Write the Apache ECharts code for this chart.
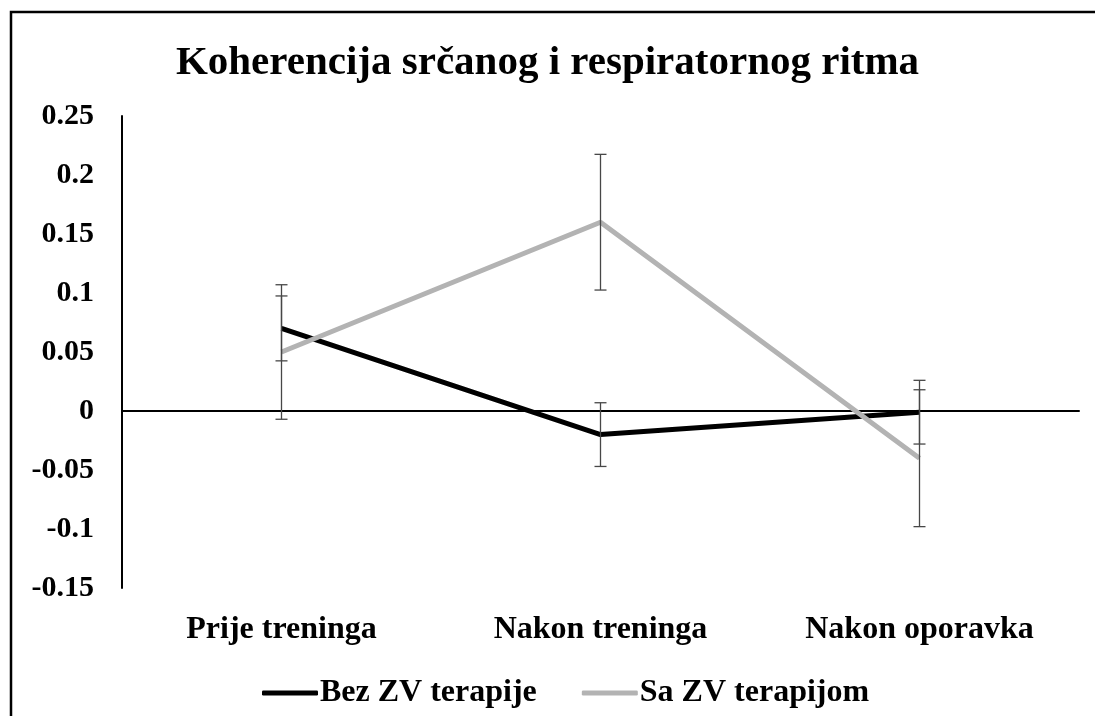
<!DOCTYPE html>
<html>
<head>
<meta charset="utf-8">
<script src="https://cdn.jsdelivr.net/npm/echarts@6/dist/echarts.min.js"></script>
<style>
  html, body { margin: 0; padding: 0; background: #fff; }
  #chart { width: 1095px; height: 716px; }
</style>
</head>
<body>
<div id="chart"></div>
<script>
// Measurement phases
const categories = ['Prije treninga', 'Nakon treninga', 'Nakon oporavka'];

// Mean coherence per group
const bezZV = [0.070, -0.020, -0.001];
const saZV = [0.050, 0.160, -0.040];

// Error bar half-widths per group
const bezZVErr = [0.0275, 0.027, 0.027];
const saZVErr = [0.057, 0.0575, 0.058];

// Value axis ticks
const yMin = -0.15;
const yMax = 0.25;
const yStep = 0.05;
const yTickLabels = ['-0.15', '-0.1', '-0.05', '0', '0.05', '0.1', '0.15', '0.2', '0.25'];

const seriesNames = ['Bez ZV terapije', 'Sa ZV terapijom'];
const FONT = '"Liberation Serif", "Times New Roman", serif';

function errorItems(values, errs) {
  return values.map((v, i) => [i, v, errs[i]]);
}

function renderErrorBar(params, api) {
  const idx = api.value(0);
  const v = api.value(1);
  const e = api.value(2);
  const top = api.coord([idx, v + e]);
  const bot = api.coord([idx, v - e]);
  const half = 6;
  const style = { stroke: '#474747', lineWidth: 1.3 };
  return {
    type: 'group',
    children: [
      { type: 'line', shape: { x1: top[0], y1: top[1], x2: bot[0], y2: bot[1] }, style },
      { type: 'line', shape: { x1: top[0] - half, y1: top[1], x2: top[0] + half, y2: top[1] }, style },
      { type: 'line', shape: { x1: bot[0] - half, y1: bot[1], x2: bot[0] + half, y2: bot[1] }, style }
    ]
  };
}

const chart = echarts.init(document.getElementById('chart'), null, { renderer: 'canvas' });

chart.setOption({
  animation: false,
  backgroundColor: '#fff',
  textStyle: { fontFamily: FONT },
  graphic: [{
    type: 'rect',
    shape: { x: 11, y: 12, width: 1110, height: 730 },
    style: { fill: 'none', stroke: '#000', lineWidth: 2.5 },
    silent: true
  }],
  title: {
    text: 'Koherencija srčanog i respiratornog ritma',
    left: 'center',
    top: 38,
    textStyle: { fontFamily: FONT, fontWeight: 'bold', fontSize: 41, color: '#000' }
  },
  legend: {
    left: 257,
    top: 672,
    icon: 'roundRect',
    itemWidth: 56,
    itemHeight: 5,
    itemGap: 45,
    data: seriesNames,
    textStyle: { fontFamily: FONT, fontWeight: 'bold', fontSize: 32, color: '#000', padding: [0, 0, 0, -3] }
  },
  grid: { left: 122, right: 16, top: 116, bottom: 128 },
  xAxis: [
    {
      type: 'category',
      data: categories,
      boundaryGap: true,
      axisLine: { onZero: true, lineStyle: { color: '#000', width: 2 } },
      axisTick: { show: false },
      axisLabel: { show: false }
    },
    {
      type: 'category',
      data: categories,
      position: 'bottom',
      boundaryGap: true,
      axisLine: { show: false },
      axisTick: { show: false },
      axisLabel: {
        margin: 26,
        fontFamily: FONT, fontWeight: 'bold', fontSize: 32, color: '#000'
      }
    }
  ],
  yAxis: {
    type: 'value',
    min: yMin,
    max: yMax,
    interval: yStep,
    axisLine: { show: true, lineStyle: { color: '#000', width: 2 } },
    axisTick: { show: false },
    splitLine: { show: false },
    axisLabel: {
      margin: 28,
      fontFamily: FONT, fontWeight: 'bold', fontSize: 30, color: '#000',
      formatter: (v) => yTickLabels[Math.round((v - yMin) / yStep)]
    }
  },
  series: [
    {
      name: seriesNames[0],
      type: 'line',
      data: bezZV,
      symbol: 'none',
      lineStyle: { color: '#000', width: 5 },
      itemStyle: { color: '#000' },
      z: 2
    },
    {
      name: seriesNames[1],
      type: 'line',
      data: saZV,
      symbol: 'none',
      lineStyle: { color: '#b3b3b3', width: 5 },
      itemStyle: { color: '#b3b3b3' },
      z: 3
    },
    {
      type: 'custom',
      renderItem: renderErrorBar,
      data: errorItems(bezZV, bezZVErr),
      z: 5,
      silent: true
    },
    {
      type: 'custom',
      renderItem: renderErrorBar,
      data: errorItems(saZV, saZVErr),
      z: 5,
      silent: true
    }
  ]
});
</script>
</body>
</html>
